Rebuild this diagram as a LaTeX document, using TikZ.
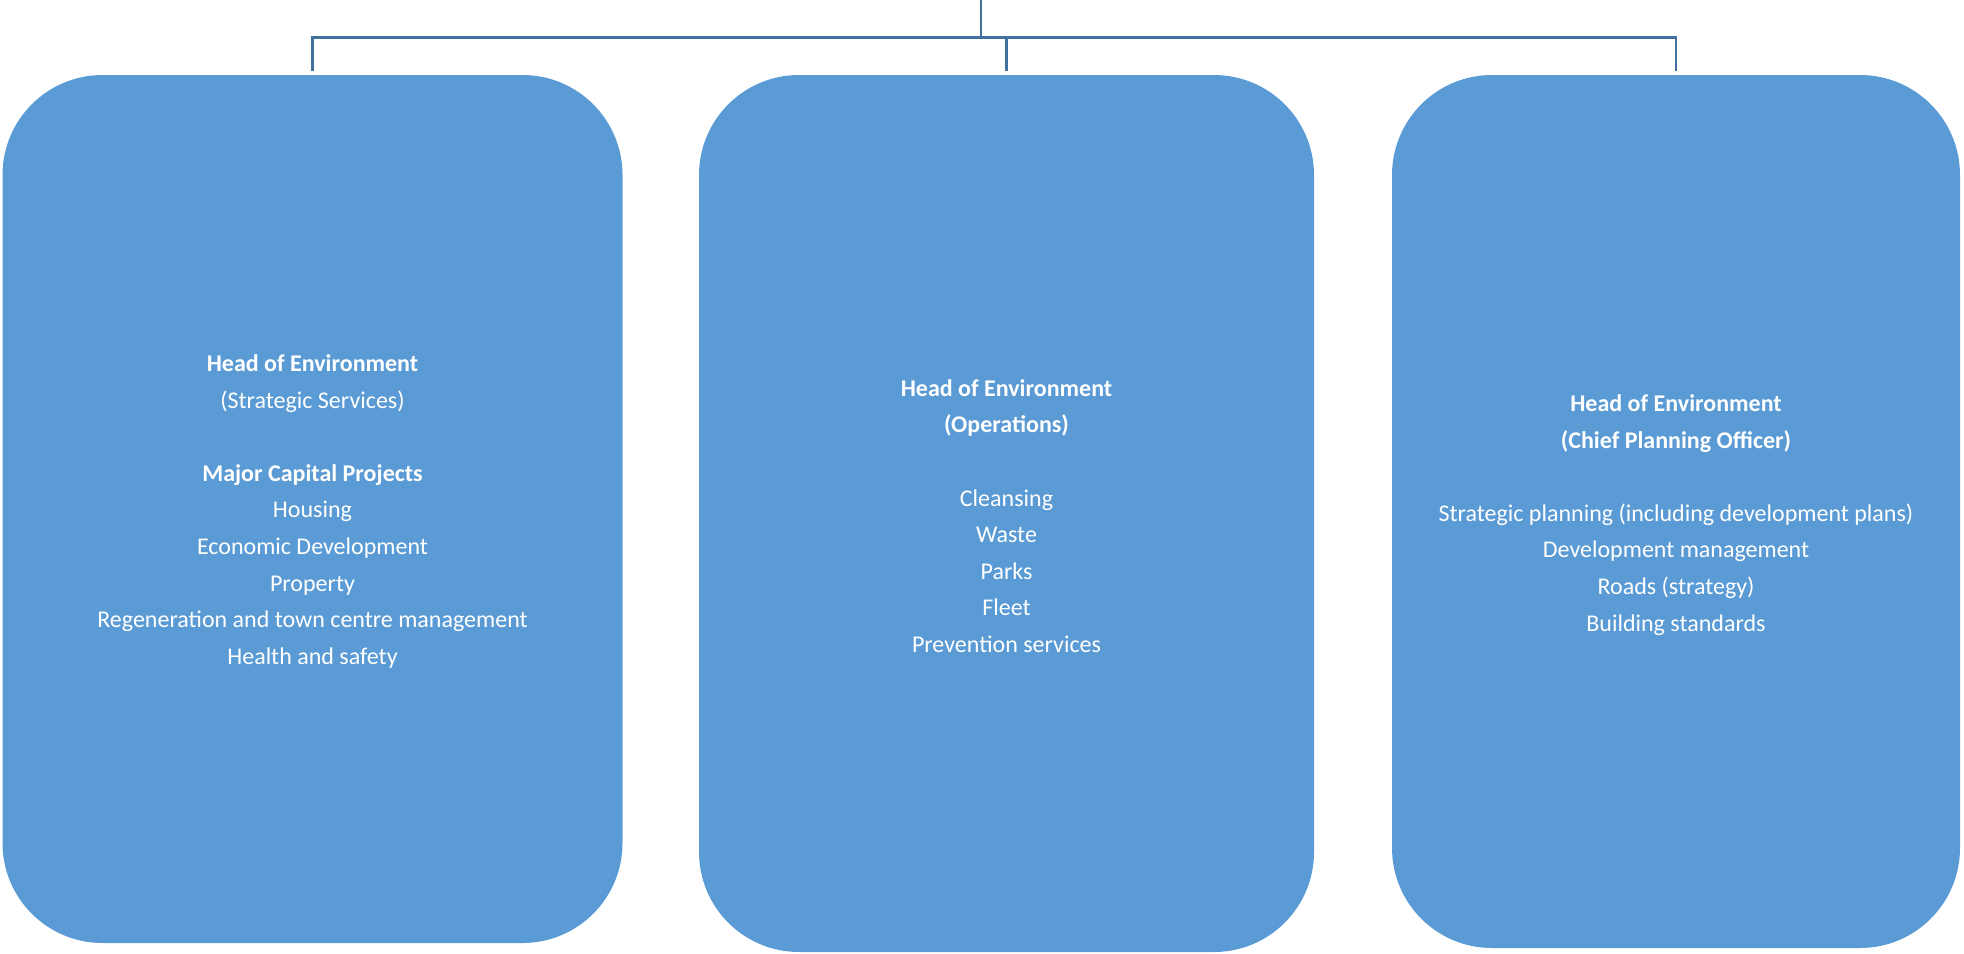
\documentclass[tikz,border=0pt]{standalone}
\usepackage{fontspec}
\setmainfont{Carlito}
\definecolor{boxblue}{HTML}{5B9BD5}
\definecolor{linkblue}{HTML}{41719C}
\begin{document}
\begin{tikzpicture}[x=1pt,y=-1pt,
  box/.style={fill=boxblue, draw=none, rectangle, rounded corners=100pt, inner sep=0pt},
  conn/.style={draw=linkblue, line width=2.5pt},
  txt/.style={text=white, align=center, inner sep=0pt, font=\fontsize{24}{36.6}\selectfont}]
\useasboundingbox (0,0) rectangle (1964,953);
\node[box, minimum width=620pt, minimum height=868pt] (b1) at (312.5,509) {};
\node[box, minimum width=615pt, minimum height=877pt] (b2) at (1006.5,513.5) {};
\node[box, minimum width=568pt, minimum height=873pt] (b3) at (1676,511.5) {};
\coordinate (top) at (981,0);
\coordinate (hub) at (981,37.6);
\draw[conn] (top) -- (hub);
\foreach \b in {b1,b2,b3}
  \draw[conn, shorten >=4pt] (hub) -| (\b.north);
\node[txt] (t1) at (312.5,511.5) {\textbf{Head of Environment}\\(Strategic Services)\\[36.6pt]\textbf{Major Capital Projects}\\Housing\\Economic Development\\Property\\Regeneration and town centre management\\Health and safety};
\node[txt] (t2) at (1006.5,516) {\textbf{Head of Environment}\\\textbf{(Operations)}\\[36.6pt]Cleansing\\Waste\\Parks\\Fleet\\Prevention services};
\node[txt] (t3) at (1676,515) {\textbf{Head of Environment}\\\textbf{(Chief Planning Officer)}\\[36.6pt]Strategic planning (including development plans)\\Development management\\Roads (strategy)\\Building standards};
\end{tikzpicture}
\end{document}
